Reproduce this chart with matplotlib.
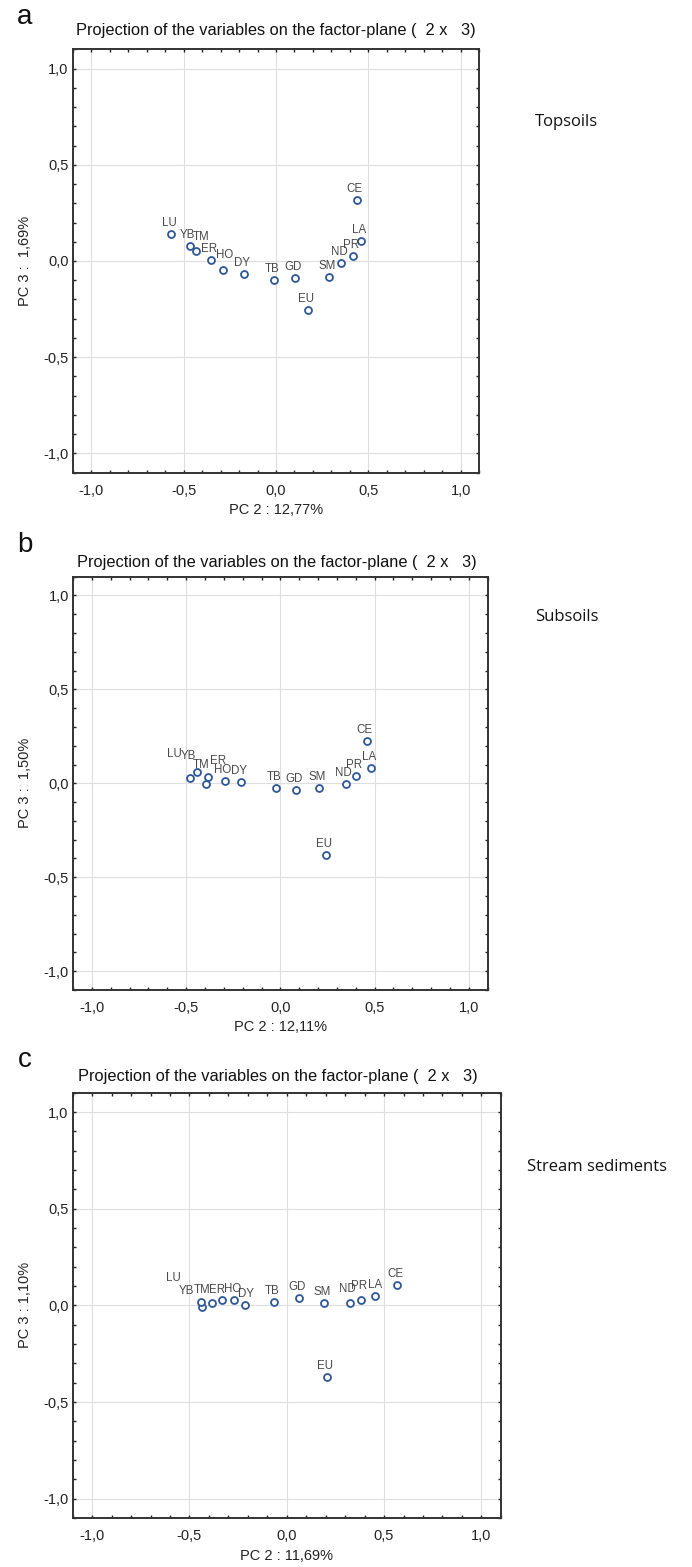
import matplotlib
matplotlib.use("Agg")
import matplotlib.pyplot as plt
from matplotlib.ticker import MultipleLocator, FuncFormatter

# ---- data: PCA loadings (PC2, PC3) for each element ----
elements = ["LU", "YB", "TM", "ER", "HO", "DY", "TB", "GD", "EU", "SM", "ND", "PR", "LA", "CE"]

topsoil_pc2 = [-0.568, -0.466, -0.433, -0.350, -0.285, -0.173, -0.011, 0.101, 0.173, 0.289, 0.354, 0.415, 0.458, 0.437]
topsoil_pc3 = [0.142, 0.078, 0.052, 0.007, -0.047, -0.067, -0.100, -0.088, -0.255, -0.081, -0.010, 0.028, 0.104, 0.316]

subsoil_pc2 = [-0.480, -0.443, -0.392, -0.383, -0.294, -0.209, -0.023, 0.081, 0.241, 0.207, 0.347, 0.400, 0.481, 0.459]
subsoil_pc3 = [0.030, 0.059, -0.005, 0.034, 0.011, 0.007, -0.025, -0.034, -0.379, -0.027, -0.005, 0.037, 0.080, 0.226]

stream_pc2 = [-0.435, -0.442, -0.385, -0.332, -0.269, -0.213, -0.064, 0.062, 0.205, 0.192, 0.327, 0.383, 0.455, 0.568]
stream_pc3 = [-0.009, 0.017, 0.012, 0.029, 0.026, 0.002, 0.017, 0.038, -0.369, 0.010, 0.010, 0.029, 0.050, 0.105]

panel_letters = ["a", "b", "c"]
panel_names = ["Topsoils", "Subsoils", "Stream sediments"]
pc2_labels = ["PC 2 : 12,77%", "PC 2 : 12,11%", "PC 2 : 11,69%"]
pc3_labels = ["PC 3 :  1,69%", "PC 3 :  1,50%", "PC 3 : 1,10%"]
title_text = "Projection of the variables on the factor-plane (  2 x   3)"

# ---- layout ----
W, H = 692, 1567
fig = plt.figure(figsize=(W / 100, H / 100), dpi=100)
fig.patch.set_facecolor("white")

# axes boxes in pixels: left, right, top, bottom
boxes = [
    (72.7, 479.3, 49.3, 472.7),
    (73.0, 487.7, 576.7, 990.0),
    (72.7, 500.8, 1092.7, 1518.0),
]
title_pos = [(76, 31), (76.7, 562), (78, 1076)]
letter_pos = [(25, 17), (25, 545), (25, 1060)]
name_pos = [(535, 122), (535, 617), (527, 1167)]

# per-panel label nudges in pixels (dx, dy up); default otherwise
default_off = (-2, 11)
label_offsets = [
    {"TM": (5, 14), "HO": (1, 15)},
    {"LU": (-15.3, 23.3), "YB": (-8, 16.3), "TM": (-5.3, 19), "ER": (9.7, 16)},
    {"LU": (-28.7, 29), "YB": (-14.7, 10.7), "TM": (-9.4, 13.4), "ER": (-5.3, 10),
     "DY": (1, 11.4), "ND": (-3, 14.7), "PR": (-2.3, 13.6), "LA": (0, 10.3)},
]

series = [
    (topsoil_pc2, topsoil_pc3),
    (subsoil_pc2, subsoil_pc3),
    (stream_pc2, stream_pc3),
]

base_font = ["Liberation Sans", "DejaVu Sans"]
marker_color = "#2D5797"
comma = FuncFormatter(lambda v, p: f"{v:.1f}".replace(".", ",").replace("-0,0", "0,0"))

for i, (xs, ys) in enumerate(series):
    l, r, t, b = boxes[i]
    ax = fig.add_axes([l / W, 1 - b / H, (r - l) / W, (b - t) / H])
    ax.set_xlim(-1.1, 1.1)
    ax.set_ylim(-1.1, 1.1)
    ax.xaxis.set_major_locator(MultipleLocator(0.5))
    ax.yaxis.set_major_locator(MultipleLocator(0.5))
    ax.xaxis.set_minor_locator(MultipleLocator(0.1))
    ax.yaxis.set_minor_locator(MultipleLocator(0.1))
    ax.xaxis.set_major_formatter(comma)
    ax.yaxis.set_major_formatter(comma)
    ax.grid(True, which="major", color="#dedede", lw=0.8, zorder=0)
    ax.set_axisbelow(True)
    for which in ("major", "minor"):
        ax.tick_params(which=which, direction="in", length=2.4, width=1.0,
                       color="#222222", top=True, right=True)
    ax.tick_params(axis="x", which="major", labelsize=10.5, pad=8,
                   labelcolor="#222222")
    ax.tick_params(axis="y", which="major", labelsize=10.5, pad=3,
                   labelcolor="#222222")
    for lab in ax.get_xticklabels() + ax.get_yticklabels():
        lab.set_family(base_font)
    for sp in ax.spines.values():
        sp.set_color("#333333")
        sp.set_linewidth(1.4)

    ax.plot(xs, ys, linestyle="none", marker="o", markersize=5,
            markerfacecolor="white", markeredgecolor=marker_color,
            markeredgewidth=1.3, zorder=3)
    for name, x, y in zip(elements, xs, ys):
        dx, dy = label_offsets[i].get(name, default_off)
        ax.annotate(name, (x, y), xytext=(dx, dy), textcoords="offset pixels",
                    ha="center", va="center", fontsize=8.3, color="#4a4a4a",
                    family=base_font, zorder=4)

    ax.set_xlabel(pc2_labels[i], fontsize=10.5, family=base_font, color="#222222")
    ax.xaxis.set_label_coords(0.5, -0.072)
    ax.set_ylabel(pc3_labels[i], fontsize=10.5, family=base_font, color="#222222")
    ax.yaxis.set_label_coords(-(l - 25) / (r - l), 0.5)
    ax.yaxis.label.set_va("center")

    tx, ty = title_pos[i]
    fig.text(tx / W, 1 - ty / H, title_text, ha="left", va="center",
             fontsize=11.8, family=base_font, color="#111111")
    lx, ly = letter_pos[i]
    fig.text(lx / W, 1 - ly / H, panel_letters[i], ha="center", va="center",
             fontsize=20, family=base_font, color="#111111")
    nx, ny = name_pos[i]
    fig.text(nx / W, 1 - ny / H, panel_names[i], ha="left", va="center",
             fontsize=12, family=["Open Sans", "DejaVu Sans"], color="#111111")

fig.savefig("out.png", dpi=100, facecolor="white")
